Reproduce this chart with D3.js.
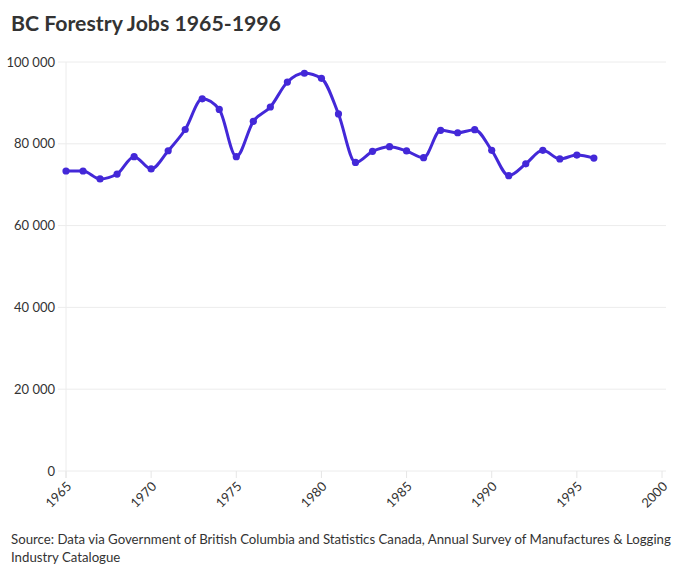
<!DOCTYPE html>
<html>
<head>
<meta charset="utf-8">
<script src="https://cdn.jsdelivr.net/npm/d3@7"></script>
<style>
  html, body { margin: 0; padding: 0; background: #fff; }
  svg { display: block; font-family: Lato, "Noto Sans", sans-serif; }
</style>
</head>
<body>
<svg id="chart" width="687" height="575"></svg>
<script>
const years = [1965,1966,1967,1968,1969,1970,1971,1972,1973,1974,1975,1976,1977,1978,1979,1980,
               1981,1982,1983,1984,1985,1986,1987,1988,1989,1990,1991,1992,1993,1994,1995,1996];
const jobs = [73350,73350,71400,72600,76850,73850,78300,83500,91000,88400,76850,85500,89000,95100,97250,96000,
              87300,75450,78150,79300,78250,76600,83300,82700,83450,78400,72200,75100,78400,76300,77250,76500];
const xTicks = [1965,1970,1975,1980,1985,1990,1995,2000];
const yTicks = [0,20000,40000,60000,80000,100000];
const title = "BC Forestry Jobs 1965-1996";
const sourceLines = ["Source: Data via Government of British Columbia and Statistics Canada, Annual Survey of Manufactures & Logging",
                     "Industry Catalogue"];

const svg = d3.select("#chart");
const x = d3.scaleLinear().domain([1965, 2000]).range([66, 662]);
const y = d3.scaleLinear().domain([0, 100000]).range([471, 62]);
const fmt = v => d3.format(",")(v).replace(/,/g, " ");

// title
const t = svg.append("text").attr("x", 11).attr("y", 31)
  .attr("font-size", 20).attr("font-weight", 700).attr("fill", "#333")
  .text(title);
const tw = t.node().getComputedTextLength();
t.attr("font-size", 20 * 270 / tw);

// horizontal grid
const yg = svg.append("g");
yg.selectAll("line").data(yTicks).join("line")
  .attr("x1", 58).attr("x2", 666)
  .attr("y1", d => y(d)).attr("y2", d => y(d))
  .attr("stroke", "#ececec").attr("stroke-width", 1);
yg.selectAll("text").data(yTicks).join("text")
  .attr("x", 55).attr("y", d => y(d)).attr("dy", "0.35em")
  .attr("text-anchor", "end").attr("font-size", 13).attr("fill", "#333")
  .text(d => fmt(d));

// vertical axis line at 1965
svg.append("line").attr("x1", x(1965)).attr("x2", x(1965))
  .attr("y1", 62).attr("y2", 478)
  .attr("stroke", "#ececec");

// x ticks
const xg = svg.append("g");
xg.selectAll("line").data(xTicks).join("line")
  .attr("x1", d => x(d)).attr("x2", d => x(d))
  .attr("y1", 471).attr("y2", 478)
  .attr("stroke", "#e6e6e6");
xg.selectAll("text").data(xTicks).join("text")
  .attr("transform", d => `translate(${x(d)+3},${484}) rotate(-45)`)
  .attr("text-anchor", "end").attr("dy", "0.35em")
  .attr("font-size", 13).attr("fill", "#333")
  .text(d => d);

// line
const data = years.map((yr, i) => ({ yr, v: jobs[i] }));
const line = d3.line().x(d => x(d.yr)).y(d => y(d.v)).curve(d3.curveMonotoneX);
svg.append("path").datum(data)
  .attr("d", line).attr("fill", "none")
  .attr("stroke", "#4328d8").attr("stroke-width", 3)
  .attr("stroke-linejoin", "round");
svg.append("g").selectAll("circle").data(data).join("circle")
  .attr("cx", d => x(d.yr)).attr("cy", d => y(d.v)).attr("r", 3.6)
  .attr("fill", "#4328d8");

// source
const src = svg.append("g").selectAll("text").data(sourceLines).join("text")
  .attr("x", 11).attr("y", (d, i) => 544 + i * 18)
  .attr("font-size", 14).attr("fill", "#333")
  .text(d => d);
const sw = src.nodes()[0].getComputedTextLength();
src.attr("font-size", 14 * 660 / sw);
</script>
</body>
</html>
